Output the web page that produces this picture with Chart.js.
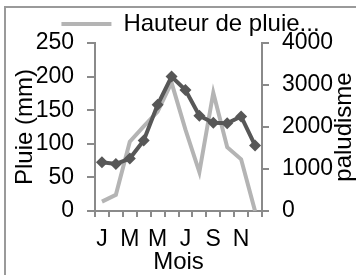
<!DOCTYPE html>
<html>
<head>
<meta charset="utf-8">
<script src="https://cdn.jsdelivr.net/npm/chart.js@4/dist/chart.umd.min.js"></script>
<style>
  html, body { margin: 0; padding: 0; background: #fff; }
  #wrap { width: 356px; height: 275px; }
</style>
</head>
<body>
<div id="wrap"><canvas id="chart" width="356" height="275"></canvas></div>
<script>
// Données
const mois = ["J", "F", "M", "A", "M", "J", "J", "A", "S", "O", "N", "D"];
const pluie = [14, 24, 103, 126, 148, 191, 121, 58, 176, 95, 77, 0];
const paludisme = [1160, 1120, 1250, 1680, 2530, 3200, 2880, 2270, 2100, 2090, 2250, 1560];
const ticksPluie = [0, 50, 100, 150, 200, 250];
const ticksPalu = [0, 1000, 2000, 3000, 4000];
const legendText = "Hauteur de pluie...";

const axisColor = "#8a8a8a";
const fontFamily = "'Liberation Sans', Arial, sans-serif";

// cadre + titre de l'axe droit (texte de bas en haut)
const extras = {
  id: "extras",
  afterLayout(chart) {
    // descendre un peu la légende sans toucher la zone du graphique
    chart.legend.top += 3;
    chart.legend.bottom += 3;
  },
  beforeDraw(chart) {
    const c = chart.ctx;
    c.save();
    c.strokeStyle = "#9a9a9a";
    c.lineWidth = 2;
    c.beginPath();
    c.moveTo(5, 275);
    c.lineTo(5, 7);
    c.lineTo(356, 7);
    c.stroke();
    c.restore();
  },
  afterDraw(chart) {
    const c = chart.ctx;
    const area = chart.chartArea;
    c.save();
    c.translate(344, (area.top + area.bottom) / 2);
    c.rotate(-Math.PI / 2);
    c.font = "24px " + fontFamily;
    c.fillStyle = "#000";
    c.textAlign = "center";
    c.textBaseline = "middle";
    c.fillText("paludisme", 0, 0);
    c.restore();
  }
};

const tickFont = { family: fontFamily, size: 23 };
const titleFont = { family: fontFamily, size: 24 };

new Chart(document.getElementById("chart"), {
  type: "line",
  data: {
    labels: mois,
    datasets: [
      {
        label: "Hauteur de pluie (mm)",
        data: pluie,
        yAxisID: "y",
        borderColor: "#b4b4b4",
        backgroundColor: "#b4b4b4",
        borderWidth: 4,
        pointRadius: 0,
        tension: 0,
        order: 1
      },
      {
        label: "Cas de paludisme",
        data: paludisme,
        yAxisID: "y1",
        borderColor: "#575757",
        backgroundColor: "#575757",
        borderWidth: 4,
        pointStyle: "rectRot",
        pointRadius: 6,
        pointBorderWidth: 0,
        tension: 0,
        order: 0
      }
    ]
  },
  options: {
    responsive: false,
    animation: false,
    layout: { padding: { left: 25, top: 1, right: 0, bottom: 0 } },
    plugins: {
      tooltip: { enabled: false },
      legend: {
        position: "top",
        labels: {
          boxWidth: 50,
          boxHeight: 4,
          padding: 8,
          color: "#000",
          font: titleFont,
          generateLabels: () => [{
            text: legendText,
            fillStyle: "#b4b4b4",
            strokeStyle: "#b4b4b4",
            lineWidth: 0,
            datasetIndex: 0
          }]
        }
      }
    },
    scales: {
      x: {
        offset: true,
        grid: { offset: true, drawOnChartArea: false, tickLength: 6, color: axisColor, lineWidth: 2 },
        border: { color: axisColor, width: 2 },
        ticks: {
          autoSkip: false,
          maxRotation: 0,
          padding: 9,
          color: "#000",
          font: tickFont,
          callback: (v, i) => (i % 2 === 0 ? mois[i] : "")
        },
        title: {
          display: true,
          text: "Mois",
          color: "#000",
          font: titleFont,
          padding: { top: 0, bottom: -2 }
        },
        afterFit: s => { s.height = 64; s.paddingLeft = 0; s.paddingRight = 0; }
      },
      y: {
        position: "left",
        min: 0,
        max: 250,
        afterBuildTicks: s => { s.ticks = ticksPluie.map(v => ({ value: v })); },
        grid: { drawOnChartArea: false, tickLength: 8, color: axisColor, lineWidth: 2 },
        border: { color: axisColor, width: 2 },
        ticks: { padding: 13, color: "#000", font: tickFont, callback: v => String(v) },
        title: {
          display: true,
          text: "Pluie (mm)",
          color: "#000",
          font: titleFont,
          padding: { top: -14, bottom: 0 }
        },
        afterFit: s => { s.width = 70; s.paddingTop = 0; s.paddingBottom = 0; }
      },
      y1: {
        position: "right",
        min: 0,
        max: 4000,
        afterBuildTicks: s => { s.ticks = ticksPalu.map(v => ({ value: v })); },
        grid: { drawOnChartArea: false, tickLength: 7, color: axisColor, lineWidth: 2 },
        border: { color: axisColor, width: 2 },
        ticks: { padding: 13, color: "#000", font: tickFont, callback: v => String(v) },
        afterFit: s => { s.width = 94; s.paddingTop = 0; s.paddingBottom = 0; }
      }
    }
  },
  plugins: [extras]
});
</script>
</body>
</html>
